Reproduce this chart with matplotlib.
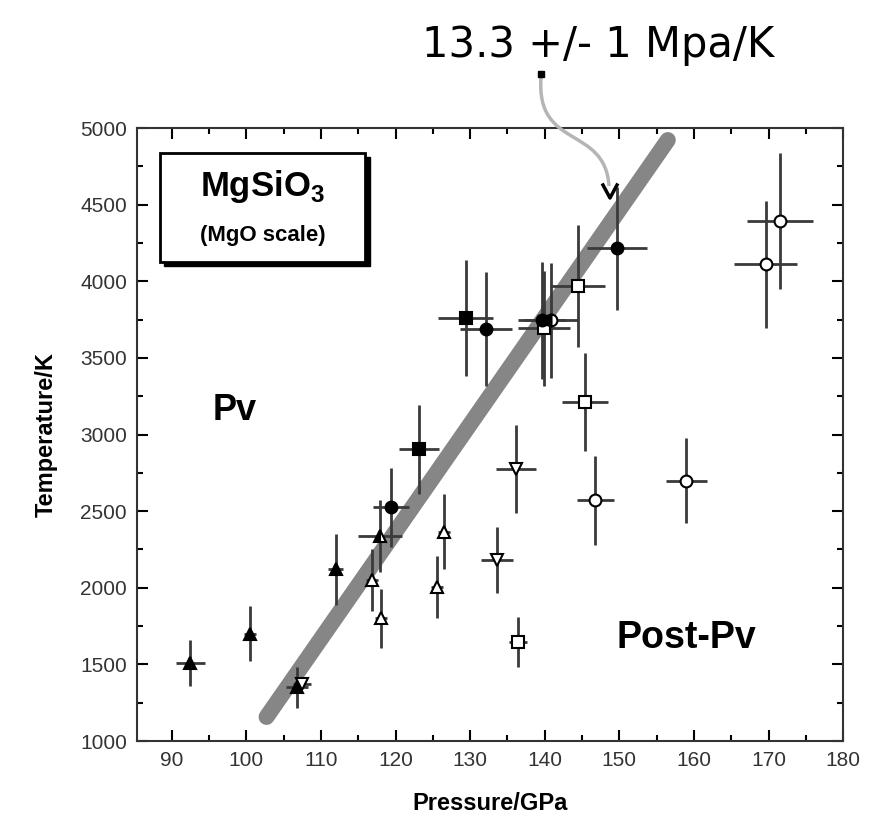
import numpy as np
import matplotlib
matplotlib.use('Agg')
import matplotlib.pyplot as plt
from matplotlib.path import Path
from matplotlib.patches import PathPatch, Rectangle

plt.rcParams['font.family'] = ['Liberation Sans', 'DejaVu Sans']
plt.rcParams['mathtext.fontset'] = 'custom'
plt.rcParams['mathtext.rm'] = 'Liberation Sans:bold'
plt.rcParams['mathtext.bf'] = 'Liberation Sans:bold'

# data: pressure (GPa), temperature (K), x-err, y-err
tri_fill_p = [92.5, 100.5, 112.0, 106.8]
tri_fill_t = [1510, 1700, 2120, 1350]
tri_fill_xe = [2.0, 0.8, 1.0, 1.5]
tri_fill_ye = [150, 180, 230, 135]

tri_half_p = [117.9]
tri_half_t = [2340]
tri_half_xe = [3.0]
tri_half_ye = [235]

tri_open_p = [116.8, 118.1, 125.5, 126.5]
tri_open_t = [2050, 1800, 2005, 2365]
tri_open_xe = [0.8, 0.8, 0.8, 0.8]
tri_open_ye = [200, 190, 200, 245]

tdown_open_p = [133.6, 136.1, 107.5]
tdown_open_t = [2180, 2775, 1370]
tdown_open_xe = [2.1, 2.7, 1.2]
tdown_open_ye = [215, 290, 0]

sq_open_p = [136.4, 145.4, 144.4, 139.9]
sq_open_t = [1645, 3210, 3970, 3695]
sq_open_xe = [1.2, 3.1, 3.7, 3.5]
sq_open_ye = [165, 320, 400, 375]

sq_fill_p = [129.4, 123.1]
sq_fill_t = [3760, 2905]
sq_fill_xe = [3.7, 2.7]
sq_fill_ye = [380, 290]

circ_fill_p = [149.7, 132.1, 119.4, 139.6]
circ_fill_t = [4215, 3690, 2525, 3745]
circ_fill_xe = [4.0, 3.5, 2.4, 3.2]
circ_fill_ye = [400, 370, 260, 380]

circ_half_p = [140.8]
circ_half_t = [3745]
circ_half_xe = [3.7]
circ_half_ye = [375]

circ_open_p = [146.8, 159.0, 169.6, 171.5]
circ_open_t = [2570, 2700, 4110, 4395]
circ_open_xe = [2.5, 2.8, 4.2, 4.4]
circ_open_ye = [290, 280, 415, 445]

boundary_p = [102.7, 156.5]
boundary_t = [1157, 4922]

fig = plt.figure(figsize=(8.71, 8.21), dpi=100)
ax = fig.add_axes([0.157, 0.0974, 0.811, 0.7466])

# phase boundary
ax.plot(boundary_p, boundary_t, color='#868686', lw=11.5, solid_capstyle='round', zorder=1)

def group(p, t, xe, ye, marker, face, fill='full'):
    ax.errorbar(p, t, xerr=xe, yerr=ye, fmt='none', ecolor='#3a3a3a', elinewidth=2, capsize=0, zorder=2)
    ax.plot(p, t, ls='none', marker=marker, ms=8.5, mfc=face, mec='black', mew=1.5,
            fillstyle=fill, markerfacecoloralt='white', zorder=3)

group(tri_fill_p, tri_fill_t, tri_fill_xe, tri_fill_ye, '^', 'black')
group(tri_half_p, tri_half_t, tri_half_xe, tri_half_ye, '^', 'black', 'left')
group(tri_open_p, tri_open_t, tri_open_xe, tri_open_ye, '^', 'white')
group(tdown_open_p, tdown_open_t, tdown_open_xe, tdown_open_ye, 'v', 'white')
group(sq_open_p, sq_open_t, sq_open_xe, sq_open_ye, 's', 'white')
group(sq_fill_p, sq_fill_t, sq_fill_xe, sq_fill_ye, 's', 'black')
group(circ_fill_p, circ_fill_t, circ_fill_xe, circ_fill_ye, 'o', 'black')
group(circ_half_p, circ_half_t, circ_half_xe, circ_half_ye, 'o', 'black', 'left')
group(circ_open_p, circ_open_t, circ_open_xe, circ_open_ye, 'o', 'white')

ax.set_xlim(85.3, 180)
ax.set_ylim(1000, 5000)
ax.set_xticks(np.arange(90, 181, 10))
ax.set_xticks(np.arange(90, 181, 5), minor=True)
ax.set_yticks(np.arange(1000, 5001, 500))
ax.set_yticks(np.arange(1000, 5001, 250), minor=True)
ax.tick_params(which='both', direction='in', top=True, right=True, labelsize=15,
               labelcolor='#333333', width=1.5)
ax.tick_params(which='major', length=8, pad=7)
ax.tick_params(which='minor', length=4)
for s in ax.spines.values():
    s.set_linewidth(1.5)
    s.set_color('#333333')

ax.set_xlabel('Pressure/GPa', fontsize=17, fontweight='bold', labelpad=16)
ax.set_ylabel('Temperature/K', fontsize=17, fontweight='bold', labelpad=16)

ax.text(98.4, 3160, 'Pv', fontsize=26, fontweight='bold', ha='center', va='center')
ax.text(159.0, 1672, 'Post-Pv', fontsize=27, fontweight='bold', ha='center', va='center')

# label box with shadow
ax.add_patch(Rectangle((0.0386, 0.775), 0.291, 0.178, transform=ax.transAxes,
                       facecolor='black', edgecolor='black', zorder=4))
ax.add_patch(Rectangle((0.0326, 0.781), 0.291, 0.178, transform=ax.transAxes,
                       facecolor='white', edgecolor='black', lw=2, zorder=5))
ax.text(0.178, 0.905, r'MgSiO$_3$', transform=ax.transAxes, fontsize=25,
        fontweight='bold', ha='center', va='center', zorder=6)
ax.text(0.178, 0.825, '(MgO scale)', transform=ax.transAxes, fontsize=16,
        fontweight='bold', ha='center', va='center', zorder=6)

# slope annotation above the plot
W, H = 871.0, 821.0
def fp(x, y):
    return (x / W, 1 - y / H)

fig.text(fp(598, 45)[0], fp(598, 45)[1], '13.3 +/- 1 Mpa/K', fontsize=30,
         family='DejaVu Sans', ha='center', va='center')
verts = [fp(541, 78), fp(536, 150), fp(605, 125), fp(609, 186)]
codes = [Path.MOVETO, Path.CURVE4, Path.CURVE4, Path.CURVE4]
fig.add_artist(PathPatch(Path(verts, codes), transform=fig.transFigure,
                         facecolor='none', edgecolor='#b5b5b5', lw=2.5))
fig.add_artist(plt.Line2D([fp(541, 74)[0]], [fp(541, 74)[1]], marker='s', ms=4,
                          color='black', transform=fig.transFigure))
vx = [fp(603, 185)[0], fp(610, 198)[0], fp(617, 185)[0]]
vy = [fp(603, 185)[1], fp(610, 198)[1], fp(617, 185)[1]]
fig.add_artist(plt.Line2D(vx, vy, color='black', lw=2.5, transform=fig.transFigure))

fig.savefig('out.png', dpi=100)
